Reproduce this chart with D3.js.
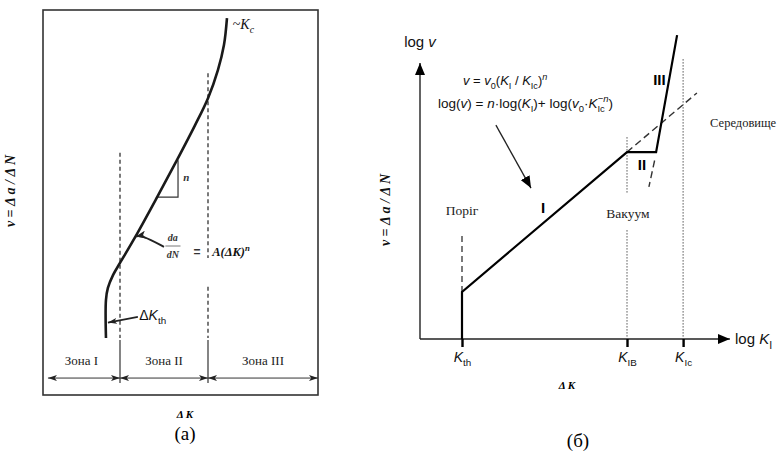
<!DOCTYPE html>
<html>
<head>
<meta charset="utf-8">
<script src="https://cdn.jsdelivr.net/npm/d3@7"></script>
<style>
    body { margin: 0; background: #fff; }
    svg { display: block; }
</style>
</head>
<body>
<svg id="chart" width="779" height="454"></svg>
<script>
// ---- panel (a): log dK vs log v, arbitrary units 0..10 ----
const curveA = [
    [2.29, 1.48], [2.29, 2.47], [2.36, 2.78], [2.55, 3.12], [2.80, 3.43],
    [3.35, 4.10], [4.15, 5.14], [4.87, 6.10], [5.53, 7.01], [6.00, 7.71],
    [6.36, 8.44], [6.58, 9.09], [6.69, 9.79]
];
const zoneEdges = [0.18, 2.8, 6.0, 10];
const zoneLabels = ['Зона I', 'Зона II', 'Зона III'];
const zoneDashes = [
    { x: 2.8, parts: [[6.29, 1.48]] },
    { x: 6.0, parts: [[8.36, 3.56], [2.81, 1.48]] }
];
const slopeTriangle = [[4.15, 5.14], [4.91, 5.14], [4.91, 6.10]];
const parisArrow = [[4.4, 3.85], [3.6, 4.15], [3.37, 4.12]];
const thresholdArrow = [[3.45, 2.03], [2.36, 1.88]];

// ---- panel (b): log K_I vs log v ----
const regimeCurve = [[1.4, 0], [1.4, 1.57], [6.9, 6.23], [7.87, 6.23], [8.57, 10.13]];
const envExtension = [[6.9, 6.23], [9.23, 8.2]];
const stageIIIBack = [[7.82, 5.95], [7.63, 5.07]];
const thresholdDash = [[1.4, 1.57], [1.4, 3.53]];
const vacuumDots = [[[6.9, 6.73], [6.9, 4.87]], [[6.9, 3.63], [6.9, 0]]];
const kIcDots = [[8.77, 9.33], [8.77, 0]];
const kTicks = [1.4, 6.9, 8.77];
const kTickLabels = ['th', 'IB', 'Ic'];
const formulaArrow = [[2.53, 7.13], [3.7, 5.03]];

const serif = '"Liberation Serif", "DejaVu Serif", serif';
const sans = '"Liberation Sans", Arial, sans-serif';

const svg = d3.select('#chart');

const defs = svg.append('defs');
function marker(id, w, h) {
    defs.append('marker')
        .attr('id', id)
        .attr('viewBox', `0 0 ${w} ${h}`)
        .attr('refX', w)
        .attr('refY', h / 2)
        .attr('markerWidth', w)
        .attr('markerHeight', h)
        .attr('markerUnits', 'userSpaceOnUse')
        .attr('orient', 'auto-start-reverse')
        .append('path')
        .attr('d', `M0,0 L${w},${h / 2} L0,${h} L${w * 0.25},${h / 2} Z`)
        .attr('fill', '#222');
}
marker('arrSmall', 9, 6);
marker('arrMed', 10, 8);
defs.append('marker')
    .attr('id', 'arrAxis')
    .attr('viewBox', '0 0 12 10')
    .attr('refX', 12).attr('refY', 5)
    .attr('markerWidth', 12).attr('markerHeight', 10)
    .attr('markerUnits', 'userSpaceOnUse')
    .attr('orient', 'auto')
    .append('path')
    .attr('d', 'M0,0 L12,5 L0,10 Z')
    .attr('fill', '#000');

// text with sub / superscripts
function rich(g, x, y, parts, size, family, opts) {
    opts = opts || {};
    const t = g.append('text')
        .attr('x', x)
        .attr('y', y)
        .attr('font-size', size)
        .attr('font-family', family)
        .attr('text-anchor', opts.anchor || 'start')
        .attr('font-weight', opts.bold ? 'bold' : 'normal')
        .attr('fill', '#111');
    if (opts.rotate) t.attr('transform', `rotate(${opts.rotate},${x},${y})`);
    let shift = 0;
    parts.forEach(p => {
        const target = p.sub ? size * 0.3 : p.sup ? -size * 0.42 : 0;
        const ts = t.append('tspan').text(p.t).attr('dy', target - shift);
        if (p.sub || p.sup) ts.attr('font-size', size * 0.7);
        if (p.it) ts.attr('font-style', 'italic');
        if (p.dx) ts.attr('dx', p.dx);
        shift = target;
    });
    return t;
}

// ================= PANEL (a) =================
const xA = d3.scaleLinear().domain([0, 10]).range([43, 318]);
const yA = d3.scaleLinear().domain([0, 10]).range([395, 10]);
const gA = svg.append('g');

gA.append('rect')
    .attr('x', xA(0)).attr('y', yA(10))
    .attr('width', xA(10) - xA(0)).attr('height', yA(0) - yA(10))
    .attr('fill', 'none').attr('stroke', '#333').attr('stroke-width', 1.6);

// zone dashed boundaries
zoneDashes.forEach(z => {
    z.parts.forEach(p => {
        gA.append('line')
            .attr('x1', xA(z.x)).attr('x2', xA(z.x))
            .attr('y1', yA(p[0])).attr('y2', yA(p[1]))
            .attr('stroke', '#333').attr('stroke-width', 1.3)
            .attr('stroke-dasharray', '4,3');
    });
    gA.append('line')
        .attr('x1', xA(z.x)).attr('x2', xA(z.x))
        .attr('y1', yA(1.43)).attr('y2', yA(0.31))
        .attr('stroke', '#333').attr('stroke-width', 1.2);
});

// zone arrows and labels
zoneLabels.forEach((lab, i) => {
    const x0 = xA(zoneEdges[i]), x1 = xA(zoneEdges[i + 1]);
    gA.append('line')
        .attr('x1', x0).attr('x2', x1)
        .attr('y1', yA(0.44)).attr('y2', yA(0.44))
        .attr('stroke', '#333').attr('stroke-width', 1)
        .attr('marker-start', 'url(#arrSmall)')
        .attr('marker-end', 'url(#arrSmall)');
    gA.append('text')
        .attr('x', (xA(i === 0 ? 0 : zoneEdges[i]) + x1) / 2)
        .attr('y', yA(0.91))
        .attr('dy', '0.35em')
        .attr('text-anchor', 'middle')
        .attr('font-family', serif)
        .attr('font-size', 13)
        .attr('fill', '#222')
        .text(lab);
});

// slope triangle
gA.append('path')
    .attr('d', d3.line().x(d => xA(d[0])).y(d => yA(d[1]))(slopeTriangle))
    .attr('fill', 'none').attr('stroke', '#333').attr('stroke-width', 1.2);
gA.append('text')
    .attr('x', xA(5.1)).attr('y', yA(5.55))
    .attr('font-family', serif).attr('font-style', 'italic').attr('font-weight', 'bold')
    .attr('font-size', 11).attr('fill', '#333')
    .text('n');

// main curve
gA.append('path')
    .attr('d', d3.line().x(d => xA(d[0])).y(d => yA(d[1])).curve(d3.curveCatmullRom)(curveA))
    .attr('fill', 'none').attr('stroke', '#1a1a1a').attr('stroke-width', 2.6);

// annotation arrows
gA.append('path')
    .attr('d', d3.line().x(d => xA(d[0])).y(d => yA(d[1])).curve(d3.curveBasis)(parisArrow))
    .attr('fill', 'none').attr('stroke', '#222').attr('stroke-width', 2)
    .attr('marker-end', 'url(#arrMed)');
gA.append('path')
    .attr('d', d3.line().x(d => xA(d[0])).y(d => yA(d[1]))(thresholdArrow))
    .attr('fill', 'none').attr('stroke', '#222').attr('stroke-width', 1.6)
    .attr('marker-end', 'url(#arrSmall)');

// labels
rich(gA, xA(6.9), yA(9.5), [{ t: '~' }, { t: 'K', it: true }, { t: 'c', sub: true, it: true }], 14, serif);
rich(gA, xA(3.5), yA(1.95), [{ t: 'Δ' }, { t: 'K', it: true }, { t: 'th', sub: true }], 14, sans);
gA.append('text').attr('x', xA(4.72)).attr('y', yA(4.0)).attr('text-anchor', 'middle')
    .attr('font-family', serif).attr('font-style', 'italic').attr('font-weight', 'bold')
    .attr('font-size', 10).attr('fill', '#333').text('da');
gA.append('line').attr('x1', xA(4.45)).attr('x2', xA(5.0)).attr('y1', yA(3.87)).attr('y2', yA(3.87))
    .attr('stroke', '#555').attr('stroke-width', 0.8);
gA.append('text').attr('x', xA(4.72)).attr('y', yA(3.57)).attr('text-anchor', 'middle')
    .attr('font-family', serif).attr('font-style', 'italic').attr('font-weight', 'bold')
    .attr('font-size', 10).attr('fill', '#333').text('dN');
gA.append('text').attr('x', xA(5.6)).attr('y', yA(3.72)).attr('dy', '0.35em').attr('text-anchor', 'middle')
    .attr('font-family', sans).attr('font-weight', 'bold').attr('font-size', 12).attr('fill', '#333').text('=');
rich(gA, xA(6.15), yA(3.72) + 4, [{ t: 'A(ΔK)', it: true }, { t: 'n', sup: true, it: true }], 12.5, serif, { bold: true });

// axis titles
rich(svg, 15, 191, [{ t: 'v = Δ a / Δ N', it: true }], 14, serif, { anchor: 'middle', bold: true, rotate: -90 })
    .attr('dy', '0.35em');
svg.append('text').attr('x', 185).attr('y', 418).attr('text-anchor', 'middle')
    .attr('font-family', serif).attr('font-style', 'italic').attr('font-weight', 'bold')
    .attr('font-size', 11).text('Δ K');
svg.append('text').attr('x', 185).attr('y', 440).attr('text-anchor', 'middle')
    .attr('font-family', serif).attr('font-size', 19).text('(a)');

// ================= PANEL (б) =================
const xB = d3.scaleLinear().domain([0, 10]).range([420, 720]);
const yB = d3.scaleLinear().domain([0, 10]).range([339, 39]);
const gB = svg.append('g');
const lineB = d3.line().x(d => xB(d[0])).y(d => yB(d[1]));

// axes
gB.append('line')
    .attr('x1', xB(0)).attr('x2', xB(0)).attr('y1', yB(0)).attr('y2', yB(9.2))
    .attr('stroke', '#222').attr('stroke-width', 1.4).attr('marker-end', 'url(#arrAxis)');
gB.append('line')
    .attr('x1', xB(0)).attr('x2', xB(10.33)).attr('y1', yB(0)).attr('y2', yB(0))
    .attr('stroke', '#222').attr('stroke-width', 1.4).attr('marker-end', 'url(#arrAxis)');

const axisB = d3.axisBottom(xB)
    .tickValues(kTicks)
    .tickSize(8)
    .tickSizeOuter(0)
    .tickFormat('');
const axG = gB.append('g').attr('transform', `translate(0,${yB(0)})`).call(axisB);
axG.select('.domain').remove();
axG.selectAll('.tick line').attr('stroke', '#000').attr('stroke-width', 2.4);
axG.selectAll('.tick').each(function (d, i) {
    rich(d3.select(this), 0, 23, [{ t: 'K', it: true }, { t: kTickLabels[i], sub: true }], 14, sans, { anchor: 'middle' });
});

// guide lines
gB.append('path').attr('d', lineB(thresholdDash))
    .attr('fill', 'none').attr('stroke', '#333').attr('stroke-width', 1.3).attr('stroke-dasharray', '6,4');
vacuumDots.forEach(seg => {
    gB.append('path').attr('d', lineB(seg))
        .attr('fill', 'none').attr('stroke', '#555').attr('stroke-width', 1).attr('stroke-dasharray', '1.5,1.5');
});
gB.append('path').attr('d', lineB(kIcDots))
    .attr('fill', 'none').attr('stroke', '#555').attr('stroke-width', 1).attr('stroke-dasharray', '1.5,1.5');
gB.append('path').attr('d', lineB(envExtension))
    .attr('fill', 'none').attr('stroke', '#333').attr('stroke-width', 1.4).attr('stroke-dasharray', '7,4');
gB.append('path').attr('d', lineB(stageIIIBack))
    .attr('fill', 'none').attr('stroke', '#333').attr('stroke-width', 1.4).attr('stroke-dasharray', '7,4');

// main piecewise curve
gB.append('path').attr('d', lineB(regimeCurve))
    .attr('fill', 'none').attr('stroke', '#000').attr('stroke-width', 2.2)
    .attr('stroke-linejoin', 'miter');

// formula arrow
gB.append('path').attr('d', lineB(formulaArrow))
    .attr('fill', 'none').attr('stroke', '#222').attr('stroke-width', 1.3)
    .attr('marker-end', 'url(#arrAxis)');

// stage labels
[['I', 4.1, 4.37], ['II', 7.4, 5.8], ['III', 7.98, 8.63]].forEach(s => {
    gB.append('text').attr('x', xB(s[1])).attr('y', yB(s[2])).attr('dy', '0.35em')
        .attr('text-anchor', 'middle').attr('font-family', sans).attr('font-weight', 'bold')
        .attr('font-size', 15).text(s[0]);
});

// region labels
[['Поріг', 1.4, 4.3, 'middle', 13.5], ['Вакуум', 6.93, 4.2, 'middle', 13.5], ['Середовище', 9.67, 7.2, 'start', 12.5]].forEach(s => {
    gB.append('text').attr('x', xB(s[1])).attr('y', yB(s[2])).attr('dy', '0.35em')
        .attr('text-anchor', s[3]).attr('font-family', serif)
        .attr('font-size', s[4]).attr('fill', '#222').text(s[0]);
});

// formulas
rich(gB, xB(1.43), yB(8.63) + 5,
    [{ t: 'v', it: true }, { t: ' = ' }, { t: 'v', it: true }, { t: '0', sub: true }, { t: '(' },
     { t: 'K', it: true }, { t: 'I', sub: true }, { t: ' / ' }, { t: 'K', it: true }, { t: 'Ic', sub: true },
     { t: ')' }, { t: 'n', sup: true, it: true }], 13, sans);
rich(gB, xB(0.6), yB(7.87) + 5,
    [{ t: 'log(' }, { t: 'v', it: true }, { t: ') = ' }, { t: 'n', it: true }, { t: '·log(' },
     { t: 'K', it: true }, { t: 'I', sub: true }, { t: ')+ log(' }, { t: 'v', it: true }, { t: '0', sub: true },
     { t: '·' }, { t: 'K', it: true }, { t: 'Ic', sub: true }, { t: '−n', sup: true, it: true, dx: -7 }, { t: ')' }], 13.5, sans);

// axis titles
rich(gB, xB(0), yB(9.9) + 5, [{ t: 'log ' }, { t: 'v', it: true }], 15, sans, { anchor: 'middle' });
rich(gB, xB(10.5), yB(0) + 5, [{ t: 'log ' }, { t: 'K', it: true }, { t: 'I', sub: true }], 15, sans);
rich(svg, 390, 210, [{ t: 'v = Δ a / Δ N', it: true }], 14, serif, { anchor: 'middle', bold: true, rotate: -90 })
    .attr('dy', '0.35em');
svg.append('text').attr('x', 567).attr('y', 389).attr('text-anchor', 'middle')
    .attr('font-family', serif).attr('font-style', 'italic').attr('font-weight', 'bold')
    .attr('font-size', 11).text('Δ K');
svg.append('text').attr('x', 578).attr('y', 447).attr('text-anchor', 'middle')
    .attr('font-family', serif).attr('font-size', 19).text('(б)');
</script>
</body>
</html>
